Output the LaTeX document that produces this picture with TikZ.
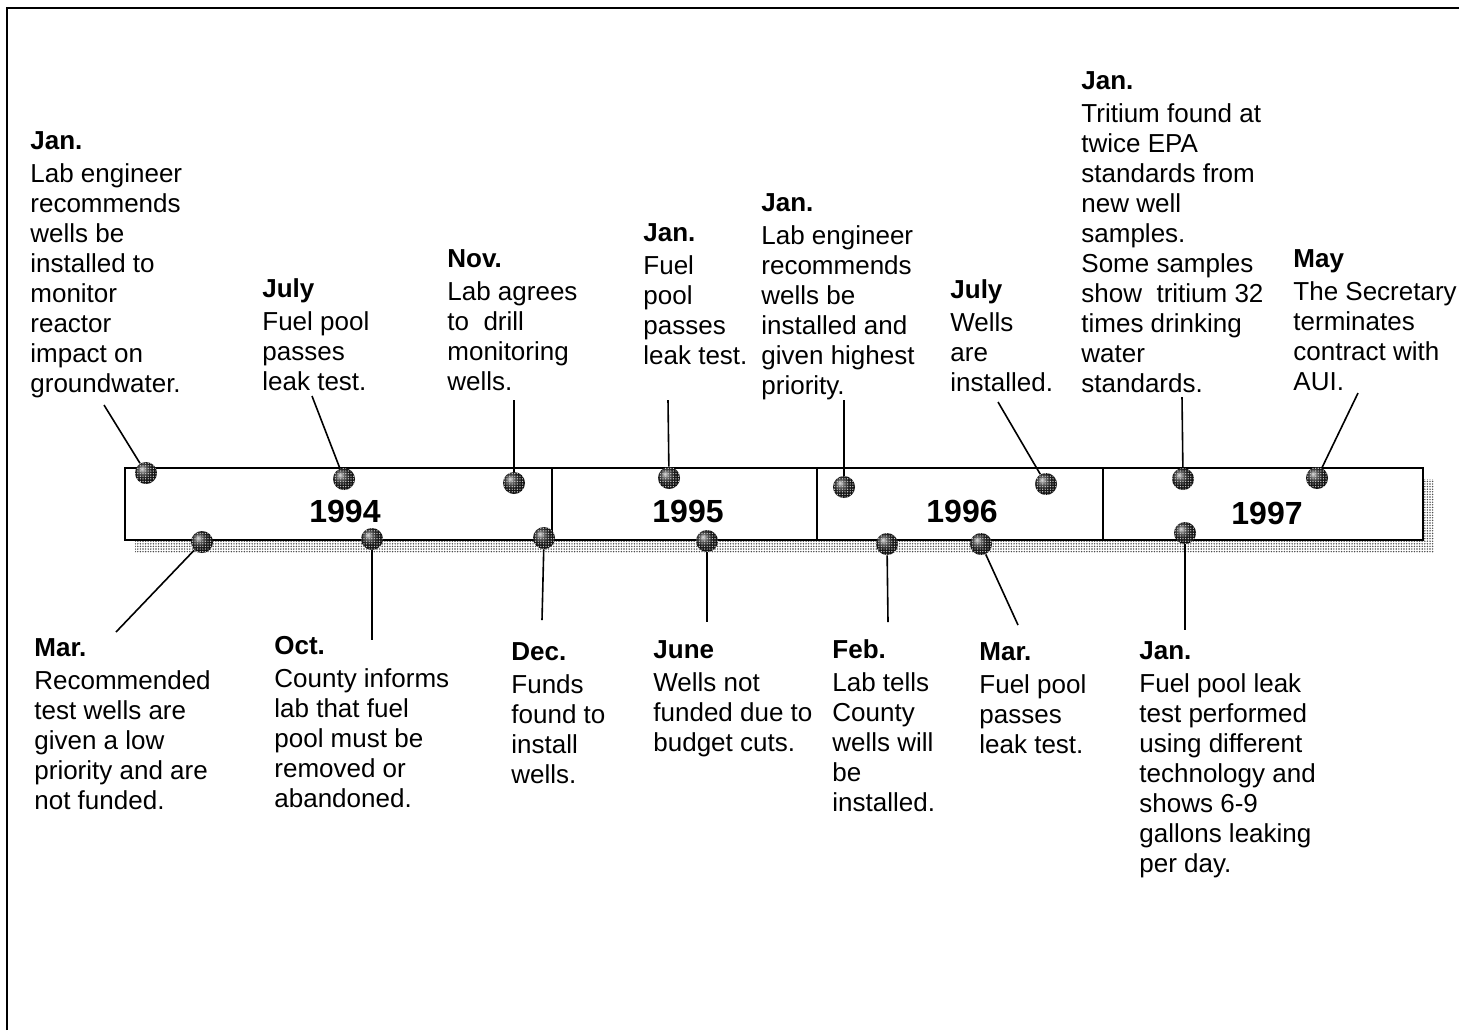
\documentclass[tikz,border=0pt]{standalone}
\usepackage{fontspec}
\setmainfont{Liberation Sans}
\usetikzlibrary{patterns.meta}

\begin{document}
\begin{tikzpicture}[x=0.5pt,y=-0.5pt,
  knob/.style={circle,inner sep=0pt,minimum width=11pt,minimum height=10pt,
    ball color=black!85,
    postaction={pattern={Dots[distance=1.3pt,radius=0.35pt]},pattern color=white!80!black}},
  year/.style={font=\fontsize{16}{18}\selectfont\bfseries},
  event/.style={anchor=north west,inner sep=0pt,align=left,
    font=\fontsize{13}{15}\selectfont},
  stick/.style={line width=0.8pt}]

  % page and frame
  \useasboundingbox (0,0) rectangle (1459,1030);
  \draw[line width=1.2pt] (7,1030) -- (7,8) -- (1459,8);

  % time bar with shadow
  \fill[pattern={Dots[distance=1.3pt,radius=0.4pt]},pattern color=black!70]
    (135,479) rectangle (1434,552);
  \filldraw[fill=white,line width=1pt] (125,468) rectangle (1423,540);
  \draw[line width=1pt] (552,468) -- (552,540)
                        (817,468) -- (817,540)
                        (1103,468) -- (1103,540);

  \node[year] (y94) at (345,511) {1994};
  \node[year] (y95) at (688,511) {1995};
  \node[year] (y96) at (962,511) {1996};
  \node[year] (y97) at (1267,513) {1997};

  % events above the bar
  \node[event] (t1) at (30,131) {\textbf{Jan.}\\[1.5pt]Lab engineer\\recommends\\wells be\\installed to\\monitor\\reactor\\impact on\\groundwater.};
  \node[event] (t2) at (262,278) {\textbf{July}\\[1.5pt]Fuel pool\\passes\\leak test.};
  \node[event] (t3) at (447,249) {\textbf{Nov.}\\[1.5pt]Lab agrees\\to~ drill\\monitoring\\wells.};
  \node[event] (t4) at (643,223) {\textbf{Jan.}\\[1.5pt]Fuel\\pool\\passes\\leak test.};
  \node[event] (t5) at (761,193) {\textbf{Jan.}\\[1.5pt]Lab engineer\\recommends\\wells be\\installed and\\given highest\\priority.};
  \node[event] (t6) at (950,279) {\textbf{July}\\[1.5pt]Wells\\are\\installed.};
  \node[event] (t7) at (1081,71) {\textbf{Jan.}\\[1.5pt]Tritium found at\\twice EPA\\standards from\\new well\\samples.\\Some samples\\show~ tritium 32\\times drinking\\water\\standards.};
  \node[event] (t8) at (1293,249) {\textbf{May}\\[1.5pt]The Secretary\\terminates\\contract with\\AUI.};

  % events below the bar
  \node[event] (b1) at (34,638) {\textbf{Mar.}\\[1.5pt]Recommended\\test wells are\\given a low\\priority and are\\not funded.};
  \node[event] (b2) at (274,636) {\textbf{Oct.}\\[1.5pt]County informs\\lab that fuel\\pool must be\\removed or\\abandoned.};
  \node[event] (b3) at (511,642) {\textbf{Dec.}\\[1.5pt]Funds\\found to\\install\\wells.};
  \node[event] (b4) at (653,640) {\textbf{June}\\[1.5pt]Wells not\\funded due to\\budget cuts.};
  \node[event] (b5) at (832,639) {\textbf{Feb.}\\[1.5pt]Lab tells\\County\\wells will\\be\\installed.};
  \node[event] (b6) at (979,642) {\textbf{Mar.}\\[1.5pt]Fuel pool\\passes\\leak test.};
  \node[event] (b7) at (1139,641) {\textbf{Jan.}\\[1.5pt]Fuel pool leak\\test performed\\using different\\technology and\\shows 6-9\\gallons leaking\\per day.};

  % pins on the bar
  \node[knob] (p1) at (146,473) {};
  \node[knob] (p2) at (344,479) {};
  \node[knob] (p3) at (514,483) {};
  \node[knob] (p4) at (669,478) {};
  \node[knob] (p5) at (844,487) {};
  \node[knob] (p6) at (1046,484) {};
  \node[knob] (p7) at (1183,479) {};
  \node[knob] (p8) at (1317,478) {};

  \node[knob] (q1) at (202,542) {};
  \node[knob] (q2) at (372,539) {};
  \node[knob] (q3) at (544,538) {};
  \node[knob] (q4) at (707,541) {};
  \node[knob] (q5) at (887,544) {};
  \node[knob] (q6) at (981,544) {};
  \node[knob] (q7) at (1185,533) {};

  % free ends of the sticks
  \coordinate (e1) at (104,405);
  \coordinate (e2) at (312,396);
  \coordinate (e3) at (514,400);
  \coordinate (e4) at (668,400);
  \coordinate (e5) at (844,400);
  \coordinate (e6) at (998,402);
  \coordinate (e7) at (1182,397);
  \coordinate (e8) at (1358,393);

  \coordinate (f1) at (116,632);
  \coordinate (f2) at (372,640);
  \coordinate (f3) at (542,620);
  \coordinate (f4) at (707,622);
  \coordinate (f5) at (888,622);
  \coordinate (f6) at (1018,625);
  \coordinate (f7) at (1185,630);

  \draw[stick] (e1) -- (p1);
  \draw[stick] (e2) -- (p2);
  \draw[stick] (e3) -- (p3);
  \draw[stick] (e4) -- (p4);
  \draw[stick] (e5) -- (p5);
  \draw[stick] (e6) -- (p6);
  \draw[stick] (e7) -- (p7);
  \draw[stick] (e8) -- (p8);

  \draw[stick] (q1) -- (f1);
  \draw[stick] (q2) -- (f2);
  \draw[stick] (q3) -- (f3);
  \draw[stick] (q4) -- (f4);
  \draw[stick] (q5) -- (f5);
  \draw[stick] (q6) -- (f6);
  \draw[stick] (q7) -- (f7);

\end{tikzpicture}
\end{document}
